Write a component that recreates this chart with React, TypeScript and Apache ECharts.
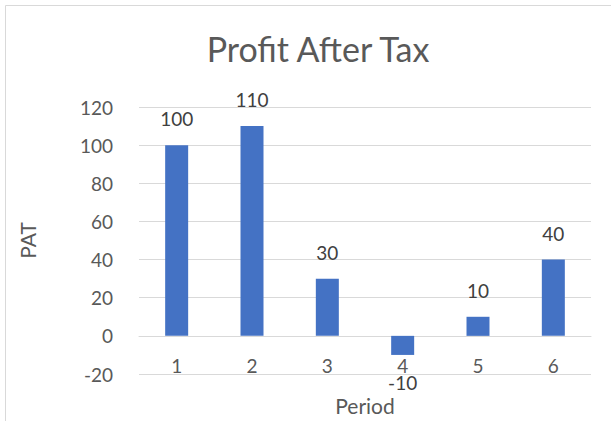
import React, { useEffect, useRef } from "react";
import * as echarts from "echarts";

const categories = ["1", "2", "3", "4", "5", "6"];
const patValues = [100, 110, 30, -10, 10, 40];
const yTicks = { min: -20, max: 120, interval: 20 };
const titleText = "Profit After Tax";
const xName = "Period";
const yName = "PAT";

const FONT = "Lato, 'Liberation Sans', sans-serif";

export default function App() {
  const ref = useRef<HTMLDivElement>(null);
  useEffect(() => {
    const chart = echarts.init(ref.current!, null, { renderer: "svg" });
    chart.setOption({
      animation: false,
      backgroundColor: "#ffffff",
      textStyle: { fontFamily: FONT },
      graphic: [
        {
          type: "rect",
          shape: { x: 5.5, y: 5.5, width: 800, height: 600 },
          style: { fill: "none", stroke: "#D9D9D9", lineWidth: 1 },
          z: -1,
        },
      ],
      title: {
        text: titleText,
        left: 313,
        top: 26,
        textAlign: "center",
        textStyle: { fontFamily: FONT, fontSize: 34, fontWeight: "normal", color: "#595959" },
      },
      grid: { left: 139, right: 20, top: 107, bottom: 47, containLabel: false, outerBoundsMode: "none" },
      xAxis: {
        type: "category",
        data: categories,
        name: xName,
        nameLocation: "middle",
        nameGap: 59,
        offset: -38,
        nameTextStyle: { fontFamily: FONT, fontSize: 21, color: "#595959" },
        axisLine: { show: true, onZero: false, lineStyle: { color: "#D9D9D9", width: 1 } },
        axisTick: { show: false },
        axisLabel: { margin: 20, fontFamily: FONT, fontSize: 19, color: "#595959" },
      },
      yAxis: {
        type: "value",
        min: yTicks.min,
        max: yTicks.max,
        interval: yTicks.interval,
        name: yName,
        nameLocation: "middle",
        nameRotate: 90,
        nameGap: 101,
        nameTextStyle: { fontFamily: FONT, fontSize: 21, color: "#595959" },
        axisLine: { show: false },
        axisTick: { show: false },
        axisLabel: { margin: 26, fontFamily: FONT, fontSize: 19, color: "#595959" },
        splitLine: { lineStyle: { color: "#D9D9D9", width: 1 } },
      },
      series: [
        {
          type: "bar",
          data: patValues.map((v) => ({
            value: v,
            label: { position: v < 0 ? "bottom" : "top", distance: v < 0 ? 18 : 17 },
          })),
          barWidth: 23,
          itemStyle: { color: "#4472C4" },
          label: {
            show: true,
            fontFamily: FONT,
            fontSize: 19,
            color: "#404040",
          },
        },
      ],
    });
    return () => chart.dispose();
  }, []);
  return (
    <div
      ref={ref}
      style={{ position: "absolute", left: 0, top: 0, width: 611, height: 421 }}
    />
  );
}
